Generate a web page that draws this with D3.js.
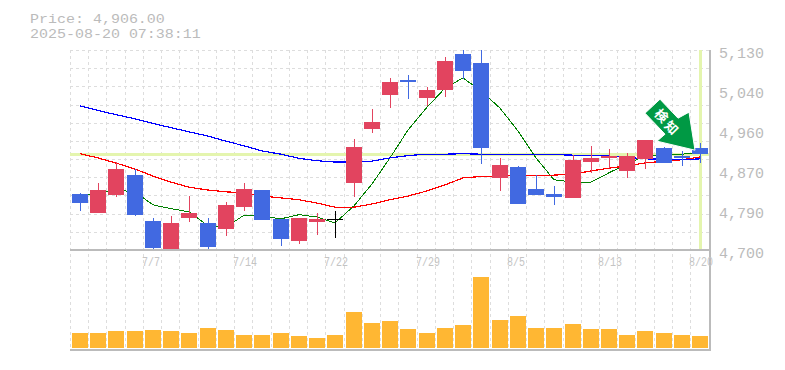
<!DOCTYPE html>
<html>
<head>
<meta charset="utf-8">
<style>
    html, body { margin: 0; padding: 0; background: #fff; overflow: hidden; }
    text { font-family: "Liberation Mono", monospace; fill: #bbb; }
</style>
<script src="https://cdn.jsdelivr.net/npm/d3@7"></script>
</head>
<body>
<div id="container"></div>
<script>
const dateLabels = ['', '', '', '', '7/7', '', '', '', '', '7/14', '', '', '', '', '7/22', '', '', '', '', '7/29', '', '', '', '', '8/5', '', '', '', '', '8/13', '', '', '', '', '8/20']
const opens = [4820, 4780, 4818, 4861, 4762, 4698, 4769, 4758, 4745, 4792, 4829, 4767, 4719, 4760, 4767, 4844, 4960, 5033, 5065, 5027, 5044, 5121, 5102, 4855, 4878, 4831, 4820, 4812, 4889, 4898, 4870, 4896, 4919, 4902, 4919]
const closes = [4801, 4829, 4874, 4775, 4704, 4758, 4780, 4706, 4797, 4831, 4765, 4724, 4769, 4767, 4767, 4921, 4975, 5061, 5061, 5044, 5106, 5085, 4919, 4883, 4799, 4818, 4814, 4893, 4898, 4902, 4902, 4936, 4887, 4898, 4906]
const highs = [4822, 4844, 4889, 4874, 4769, 4773, 4816, 4769, 4803, 4844, 4829, 4767, 4769, 4780, 4784, 4939, 5003, 5070, 5076, 5050, 5115, 5130, 5130, 4898, 4881, 4861, 4838, 4904, 4924, 4917, 4908, 4936, 4921, 4913, 4930]
const lows = [4784, 4780, 4814, 4773, 4698, 4698, 4760, 4698, 4730, 4784, 4765, 4709, 4713, 4732, 4726, 4814, 4952, 5005, 5025, 5010, 5029, 5068, 4885, 4827, 4799, 4818, 4797, 4812, 4866, 4876, 4855, 4874, 4887, 4881, 4887]
const maShort = [4814, 4823, 4829, 4825, 4797, 4789, 4782, 4752, 4749, 4775, 4773, 4767, 4776, 4771, 4758, 4795, 4842, 4898, 4958, 5007, 5048, 5070, 5042, 5005, 4956, 4898, 4851, 4846, 4846, 4866, 4885, 4902, 4906, 4906, 4909]
const maMid = [4907, 4898, 4887, 4874, 4859, 4846, 4835, 4829, 4825, 4823, 4816, 4812, 4808, 4801, 4792, 4792, 4799, 4808, 4816, 4827, 4840, 4855, 4858, 4859, 4861, 4861, 4861, 4863, 4870, 4876, 4881, 4887, 4891, 4894, 4900]
const maLong = [5010, 5000, 4991, 4982, 4972, 4963, 4954, 4945, 4934, 4924, 4913, 4906, 4897, 4892, 4889, 4889, 4891, 4898, 4903, 4906, 4906, 4907, 4906, 4906, 4906, 4906, 4905, 4904, 4904, 4902, 4899, 4896, 4895, 4894, 4896]
const volumes = [15, 15, 17, 17, 18, 17, 15, 20, 18, 13, 13, 15, 12, 10, 13, 36, 25, 27, 19, 15, 20, 23, 71, 28, 32, 20, 20, 24, 19, 19, 13, 17, 15, 13, 12]
const priceTicks = [4700, 4786, 4872, 4958, 5044, 5130]
const gridPrices = d3.range(0, 12)
const currentPrice = 4906

const width = 785
const height = 370
const svg = d3.select('#container').append('svg').attr('width', width).attr('height', height).style('display', 'block')

const idx = d3.range(opens.length)
const xScale = d3.scaleBand().domain(idx).range([72, 708.2]).paddingInner(0.1228).paddingOuter(0)
const left = i => Math.round(xScale(i))
const mid = i => left(i) + 8
const yScale = d3.scaleLinear().domain([4700, 5130]).range([250, 50])
const volScale = d3.scaleLinear().domain([0, 98]).range([348, 250])

// title
svg.append('text').attr('transform', 'translate(30, 22.5) scale(1.154, 1)').attr('font-size', 13).text('Price: ' + d3.format(',.2f')(currentPrice))
svg.append('text').attr('transform', 'translate(30, 37.5) scale(1.154, 1)').attr('font-size', 13).text('2025-08-20 07:38:11')

// grid
const grid = svg.append('g').attr('stroke', '#ddd').attr('stroke-dasharray', '3,3').attr('shape-rendering', 'crispEdges')
grid.selectAll('.v').data(idx).enter().append('line').attr('class', 'v')
    .attr('x1', d => left(d) - 1.5).attr('x2', d => left(d) - 1.5)
    .attr('y1', 50).attr('y2', 350)
grid.selectAll('.h').data(gridPrices).enter().append('line').attr('class', 'h')
    .attr('x1', 70).attr('x2', 709)
    .attr('y1', d => 50.5 + d * 18.18).attr('y2', d => 50.5 + d * 18.18)

// current price / date markers
svg.append('line').attr('x1', 70).attr('x2', 709).attr('y1', yScale(currentPrice)).attr('y2', yScale(currentPrice))
    .attr('stroke', '#e4f5ae').attr('stroke-width', 3).attr('shape-rendering', 'crispEdges')
svg.append('line').attr('x1', mid(34)).attr('x2', mid(34)).attr('y1', 50).attr('y2', 250)
    .attr('stroke', '#e4f5ae').attr('stroke-width', 3).attr('shape-rendering', 'crispEdges')

// moving averages
const maLine = d3.line().x((d, i) => mid(i)).y(d => yScale(d))
const maSeries = [[maShort, '#008000', 1], [maMid, '#ff0000', 1.2], [maLong, '#0000ff', 1.2]]
svg.selectAll('.ma').data(maSeries).enter().append('path').attr('class', 'ma')
    .attr('d', d => maLine(d[0]))
    .attr('fill', 'none')
    .attr('stroke', d => d[1])
    .attr('stroke-width', d => d[2])
    .attr('shape-rendering', 'crispEdges')

// candles
const candleColor = i => closes[i] > opens[i] ? '#e2445f' : closes[i] < opens[i] ? '#4169e1' : '#000'
const candles = svg.append('g').attr('shape-rendering', 'crispEdges')
candles.selectAll('.wick').data(idx).enter().append('line').attr('class', 'wick')
    .attr('x1', d => mid(d) + 0.5).attr('x2', d => mid(d) + 0.5)
    .attr('y1', d => yScale(highs[d])).attr('y2', d => yScale(lows[d]))
    .attr('stroke', candleColor)
candles.selectAll('.body').data(idx).enter().append('rect').attr('class', 'body')
    .attr('x', left)
    .attr('y', d => yScale(Math.max(opens[d], closes[d])))
    .attr('width', xScale.bandwidth())
    .attr('height', d => Math.max(1, yScale(Math.min(opens[d], closes[d])) - yScale(Math.max(opens[d], closes[d]))))
    .attr('fill', candleColor)

// volume
svg.selectAll('.vol').data(volumes).enter().append('rect').attr('class', 'vol')
    .attr('x', (d, i) => left(i))
    .attr('y', d => volScale(d))
    .attr('width', xScale.bandwidth())
    .attr('height', d => volScale(0) - volScale(d))
    .attr('fill', '#ffb733')
    .attr('shape-rendering', 'crispEdges')

// frame
const frame = svg.append('g').attr('stroke', '#bbb').attr('stroke-width', 2).attr('shape-rendering', 'crispEdges')
frame.append('line').attr('x1', 70).attr('x2', 710).attr('y1', 250).attr('y2', 250)
frame.append('line').attr('x1', 70).attr('x2', 710).attr('y1', 350).attr('y2', 350)
frame.append('line').attr('x1', 710).attr('x2', 710).attr('y1', 50).attr('y2', 351)

// price axis
const yAxis = d3.axisRight(yScale).tickValues(priceTicks).tickSize(0).tickPadding(0)
    .tickFormat(d => d3.format(',')(Math.round(d / 10) * 10))
const yAxisG = svg.append('g').attr('transform', 'translate(719, 3)').call(yAxis)
yAxisG.select('.domain').remove()
yAxisG.selectAll('text').attr('font-size', 15).attr('font-family', '"Liberation Mono", monospace').attr('fill', '#bbb')

// date labels
svg.selectAll('.date').data(idx.filter(i => dateLabels[i])).enter().append('text').attr('class', 'date')
    .attr('transform', d => `translate(${mid(d) - 11}, 266) scale(1, 1.3)`)
    .attr('font-size', 10)
    .style('fill', '#c4c4c4')
    .text(d => dateLabels[d])

// arrow marker, anchored on the last candle
const tipX = mid(34) - 5
const tipY = yScale(closes[34]) - 4
const arrow = svg.append('g').attr('transform', `translate(${tipX}, ${tipY})`)
arrow.append('polygon')
    .attr('points', '-35,-51 -50,-37 -30,-16 -38,-9 0,0 -6,-38 -17,-32')
    .attr('fill', '#009944')
    .attr('stroke', '#fff')
    .attr('stroke-width', 1)
arrow.append('text').attr('transform', 'translate(-33, -35) rotate(45)')
    .attr('text-anchor', 'middle').attr('dominant-baseline', 'central')
    .attr('font-size', 13).attr('font-weight', 700)
    .style('font-family', '"Noto Sans CJK JP"').style('fill', '#fff')
    .text('検')
arrow.append('text').attr('transform', 'translate(-23, -23) rotate(45)')
    .attr('text-anchor', 'middle').attr('dominant-baseline', 'central')
    .attr('font-size', 13).attr('font-weight', 700)
    .style('font-family', '"Noto Sans CJK JP"').style('fill', '#fff')
    .text('知')
</script>
</body>
</html>
